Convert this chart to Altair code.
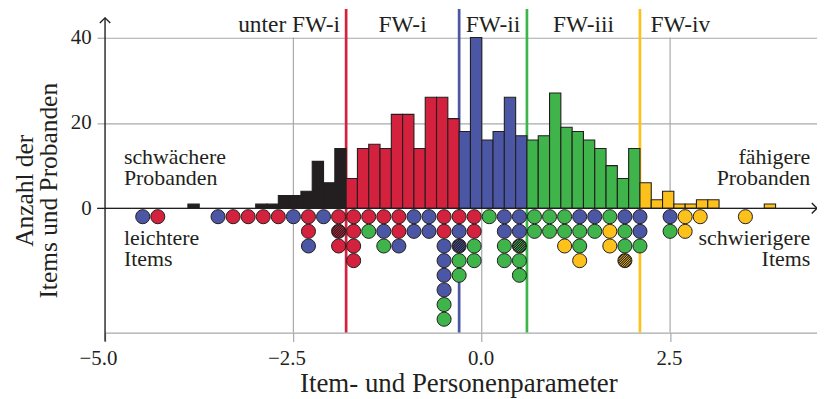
import altair as alt
import pandas as pd
import numpy as np

# ---------------- data ----------------
# person histogram: bin start (bin width 0.15) and counts
bin_start = [-3.9, -3.0, -2.85, -2.7, -2.55, -2.4, -2.25, -2.1, -1.95,
             -1.8, -1.65, -1.5, -1.35, -1.2, -1.05, -0.9, -0.75, -0.6, -0.45,
             -0.3, -0.15, 0.0, 0.15, 0.3, 0.45,
             0.6, 0.75, 0.9, 1.05, 1.2, 1.35, 1.5, 1.65, 1.8, 1.95,
             2.1, 2.25, 2.4, 2.55, 2.7, 2.85, 3.0, 3.75]
bin_count = [1, 1, 1, 3, 3, 4, 11, 6, 14,
             7, 14, 15, 14, 22, 22, 14, 26, 26, 21,
             18, 40, 16, 18, 26, 17,
             16, 17, 27, 19, 18, 16, 14, 10, 7, 14,
             6, 2, 4, 1, 1, 2, 2, 1]
bin_width = 0.15

# level thresholds
thresholds = [-1.8, -0.3, 0.6, 2.1]
levels = ["K", "R", "B", "G", "Y"]

# item dot plot: column position and stack (top to bottom); lower case = hatched
dot_x = [-4.5, -4.3, -3.5, -3.3, -3.1, -2.9, -2.7, -2.5, -2.3, -2.1, -1.9, -1.7,
         -1.5, -1.3, -1.1, -0.9, -0.7, -0.5, -0.3, -0.1, 0.1, 0.3, 0.5, 0.7,
         0.9, 1.1, 1.3, 1.5, 1.7, 1.9, 2.1, 2.5, 2.7, 2.9, 3.5]
dot_stack = ["B", "R", "B", "R", "R", "R", "R", "B", "RRB", "B", "RrR", "RRRR",
             "RG", "RBG", "RRB", "BB", "BB", "RRBBBBGG", "RBbGG", "RRGG", "G", "BBGG", "BBgGG", "GG",
             "GG", "GGY", "BGGY", "BG", "GYY", "BGGy", "BBG", "BG", "YY", "Y", "Y"]

region_labels = ["unter FW-i", "FW-i", "FW-ii", "FW-iii", "FW-iv"]
region_x = [-1.88, -1.05, 0.15, 1.35, 2.24]
region_align = ["right", "center", "center", "center", "left"]

side_text = ["schwächere", "Probanden", "leichtere", "Items",
             "fähigere", "Probanden", "schwierigere", "Items"]
side_x = [-4.75, -4.75, -4.75, -4.75, 4.36, 4.36, 4.36, 4.36]
side_y = [10.3, 5.4, -8.5, -13.6, 10.3, 5.4, -8.5, -13.6]
side_align = ["left"] * 4 + ["right"] * 4

x_ticks = [-5.0, -2.5, 0.0, 2.5]
y_ticks = [0, 20, 40]
vgrid_x = [-2.5, 0.0, 2.5]

# ---------------- style ----------------
COL = {"K": "#231f20", "R": "#d4213d", "B": "#4b56a5", "G": "#3fb44a", "Y": "#fdc11b"}
DARK = "#231f20"
GRAY = "#a7a9ac"
FONT = "Liberation Serif"

X_MIN, X_MAX = -5.0, 4.45
Y_MIN, Y_MAX = -29.1, 46.7
W, H = 715.3, 325.2
ROW0, ROWSTEP = 1.96, 3.43

xs = alt.Scale(domain=[X_MIN, X_MAX], nice=False, zero=False)
ys = alt.Scale(domain=[Y_MIN, Y_MAX], nice=False, zero=False)

xaxis = alt.Axis(values=x_ticks, format=".1f", grid=False, domain=True,
                 domainColor=GRAY, domainWidth=1.2, tickColor=GRAY, tickSize=9,
                 tickWidth=1.2, labelAlign="right", labelOffset=12,
                 labelBaseline="alphabetic", labelPadding=22.7, labelFontSize=21,
                 labelFont=FONT, labelColor=DARK, labelFlush=False, labelOverlap=False,
                 title="Item- und Personenparameter", titleFont=FONT, titleFontSize=27,
                 titleFontWeight="normal", titleColor=DARK, titleBaseline="alphabetic",
                 titleX=355, titleY=59.4, titleAlign="center", titleAnchor="start")
yaxis = alt.Axis(values=y_ticks, grid=True, gridColor=GRAY, gridWidth=1.2,
                 domain=False, tickColor=GRAY, tickSize=8, tickWidth=1.2,
                 labelFont=FONT, labelFontSize=21, labelColor=DARK, labelPadding=6,
                 labelBaseline="middle", title=None)


def X(field):
    return alt.X(field, type="quantitative", scale=xs, axis=xaxis)


def Y(field):
    return alt.Y(field, type="quantitative", scale=ys, axis=yaxis)


# ---------------- frames ----------------
grp = [levels[int(np.searchsorted(thresholds, b + 1e-9, side="right"))] for b in bin_start]
bars = pd.DataFrame({"x": bin_start, "x2": [b + bin_width for b in bin_start],
                     "y": bin_count, "y0": [0] * len(bin_start),
                     "col": [COL[g] for g in grp]})

rows = []
for xv, stack in zip(dot_x, dot_stack):
    for k, code in enumerate(stack):
        rows.append({"x": xv, "y": -(ROW0 + ROWSTEP * k),
                     "fill": DARK if code.islower() else COL[code.upper()],
                     "col": COL[code.upper()], "hatched": code.islower()})
dots = pd.DataFrame(rows)
hatched = dots[dots["hatched"]]

vgrid = pd.DataFrame({"x": vgrid_x, "y": [40] * 3, "y2": [Y_MIN] * 3})
lines = pd.DataFrame({"x": thresholds, "col": [COL[c] for c in levels[1:]]})
zero = pd.DataFrame({"x": [X_MIN], "x2": [X_MAX], "y": [0]})
regions = pd.DataFrame({"t": region_labels, "x": region_x, "a": region_align})
sides = pd.DataFrame({"t": side_text, "x": side_x, "y": side_y, "a": side_align})
yaxis_df = pd.DataFrame({"x": [X_MIN]})

# hatch stripes path (inside unit circle)
R = 0.88
segs = []
for p in [-0.72, -0.48, -0.24, 0.0, 0.24, 0.48, 0.72]:
    cx, cy = p / np.sqrt(2), p / np.sqrt(2)
    h = np.sqrt(R * R - p * p) / np.sqrt(2)
    segs.append(f"M{cx - h:.3f},{cy + h:.3f}L{cx + h:.3f},{cy - h:.3f}")
hatch_path = "".join(segs)

# ---------------- layers ----------------
l_vgrid = alt.Chart(vgrid).mark_rule(color=GRAY, strokeWidth=1.2).encode(
    x=X("x"), y=Y("y"), y2="y2")

l_lines = alt.Chart(lines).mark_rule(strokeWidth=2.7).encode(
    x=X("x"), y=alt.value(0), y2=alt.value(H), color=alt.Color("col:N", scale=None))

l_bars = alt.Chart(bars).mark_rect(stroke=DARK, strokeWidth=1.1).encode(
    x=X("x"), x2="x2", y=Y("y"), y2="y0", fill=alt.Fill("col:N", scale=None))

l_zero = alt.Chart(zero).mark_rule(color=DARK, strokeWidth=1.3).encode(
    x=alt.value(-8), x2=alt.value(W), y=Y("y"))

l_dots = alt.Chart(dots).mark_circle(size=200, stroke=DARK, strokeWidth=1, opacity=1).encode(
    x=X("x"), y=Y("y"), fill=alt.Fill("fill:N", scale=None))

l_hatch = alt.Chart(hatched).mark_point(shape=hatch_path, size=200, filled=False,
                                         strokeWidth=1.0, opacity=1).encode(
    x=X("x"), y=Y("y"), color=alt.Color("col:N", scale=None))

l_yaxis = alt.Chart(yaxis_df).mark_rule(color=DARK, strokeWidth=1.4).encode(
    x=X("x"), y=alt.value(9), y2=alt.value(H + 9))

l_arrow_up = alt.Chart(yaxis_df).mark_point(shape="M-1,1L0,0L1,1", size=110, filled=False,
                                             color=DARK, strokeWidth=1.4, opacity=1).encode(
    x=X("x"), y=alt.value(9))

l_arrow_right = alt.Chart(zero).mark_point(shape="M-1,-1L0,0L-1,1", size=110, filled=False,
                                           color=DARK, strokeWidth=1.4, opacity=1).encode(
    x=alt.value(W), y=Y("y"))

text_layers = []
for a in ["left", "center", "right"]:
    sub = regions[regions["a"] == a]
    if len(sub):
        text_layers.append(
            alt.Chart(sub).mark_text(font=FONT, fontSize=23.5, color=DARK,
                                     baseline="alphabetic", align=a).encode(
                x=X("x"), y=alt.value(23.7), text="t:N"))
    sub = sides[sides["a"] == a]
    if len(sub):
        text_layers.append(
            alt.Chart(sub).mark_text(font=FONT, fontSize=22, color=DARK,
                                     baseline="alphabetic", align=a).encode(
                x=X("x"), y=Y("y"), text="t:N"))

l_ytitle1 = alt.Chart(yaxis_df).mark_text(font=FONT, fontSize=25.5, color=DARK, angle=270,
                                          align="center", baseline="alphabetic",
                                          text="Anzahl der").encode(
    x=alt.value(33 - 105.5), y=alt.value(190.7 - 8))
l_ytitle2 = alt.Chart(yaxis_df).mark_text(font=FONT, fontSize=25.5, color=DARK, angle=270,
                                          align="center", baseline="alphabetic",
                                          text="Items und Probanden").encode(
    x=alt.value(57 - 105.5), y=alt.value(190.7 - 8))

chart = alt.layer(
    l_vgrid, l_lines, l_bars, l_zero, l_dots, l_hatch, l_yaxis, l_arrow_up,
    l_arrow_right, *text_layers, l_ytitle1, l_ytitle2
).properties(
    width=W, height=H,
    autosize=alt.AutoSizeParams(type="none"),
    padding={"left": 97.5, "top": 0, "right": 0, "bottom": 66},
).configure_view(stroke=None)

chart.save("out.html", embed_options={"renderer": "svg", "actions": False})
